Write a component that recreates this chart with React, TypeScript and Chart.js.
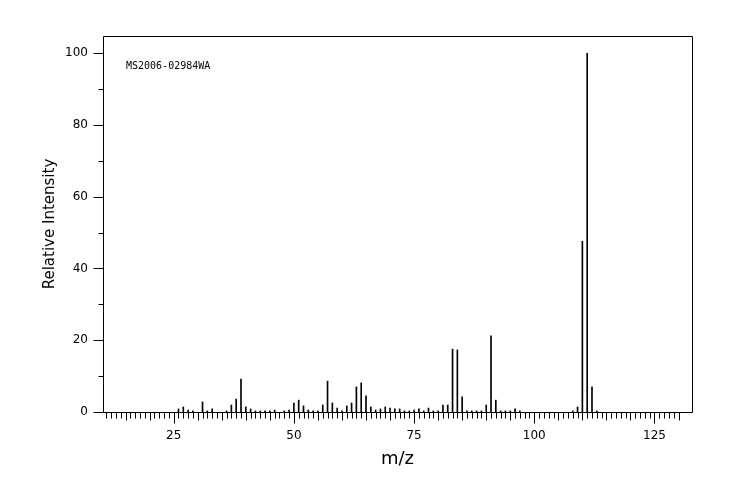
import { useEffect, useRef } from 'react';
import { Chart, registerables } from 'chart.js';

Chart.register(...registerables);

const masses = [
  26, 27, 28, 29, 31, 32, 33, 36, 37, 38, 39, 40, 41, 42, 43, 44, 45, 46, 48, 49,
  50, 51, 52, 53, 54, 55, 56, 57, 58, 59, 60, 61, 62, 63, 64, 65, 66, 67, 68, 69,
  70, 71, 72, 73, 74, 75, 76, 77, 78, 79, 80, 81, 82, 83, 84, 85, 86, 87, 88, 89,
  90, 91, 92, 93, 94, 95, 96, 97, 108, 109, 110, 111, 112, 113,
];
const intensities = [
  0.85, 1.4, 0.55, 0.3, 2.8, 0.3, 0.85, 0.3, 1.95, 3.6, 9.2, 1.4, 0.85, 0.3, 0.3, 0.3, 0.3, 0.55, 0.3, 0.55,
  2.5, 3.3, 1.7, 0.55, 0.3, 0.3, 1.95, 8.6, 2.5, 1.1, 0.3, 1.7, 2.5, 7.0, 8.1, 4.5, 1.4, 0.55, 0.85, 1.4,
  1.1, 0.85, 0.85, 0.3, 0.3, 0.55, 0.85, 0.3, 1.1, 0.3, 0.3, 1.95, 1.95, 17.5, 17.3, 4.2, 0.3, 0.3, 0.3, 0.3,
  1.95, 21.2, 3.3, 0.3, 0.3, 0.3, 0.85, 0.3, 0.3, 1.4, 47.6, 100, 7.0, 0.3,
];
const xTickLabels = [25, 50, 75, 100, 125];
const yTickLabels = [0, 20, 40, 60, 80, 100];
const xRange = [10.3, 132.8];
const yRange = [0, 104.8];
const xMinorTicks = [11, 130];
const sampleId = 'MS2006-02984WA';
const xTitle = 'm/z';
const yTitle = 'Relative Intensity';

const framePlugin = {
  id: 'frameAndTicks',
  afterDraw(chart: any) {
    const { ctx, chartArea: a, scales } = chart;
    const xs = scales.x;
    const ys = scales.y;
    ctx.save();
    ctx.strokeStyle = '#000';
    ctx.lineWidth = 1;
    const L = Math.round(a.left) + 0.5;
    const T = Math.round(a.top) + 0.5;
    const R = Math.round(a.right) + 0.5;
    const B = Math.round(a.bottom) + 0.5;
    ctx.beginPath();
    ctx.moveTo(L, T);
    ctx.lineTo(R, T);
    ctx.lineTo(R, B);
    ctx.lineTo(L, B);
    ctx.closePath();
    for (let m = xMinorTicks[0]; m <= xMinorTicks[1]; m++) {
      const px = Math.round(xs.getPixelForValue(m)) + 0.5;
      const len = m % 25 === 0 ? 11 : m % 5 === 0 ? 8 : 6;
      ctx.moveTo(px, B);
      ctx.lineTo(px, B + len);
    }
    for (let v = 0; v <= 100; v += 10) {
      const py = Math.round(ys.getPixelForValue(v)) + 0.5;
      const len = v % 20 === 0 ? 10 : 5;
      ctx.moveTo(L - len, py);
      ctx.lineTo(L, py);
    }
    ctx.stroke();
    ctx.fillStyle = '#000';
    ctx.font = '10px "DejaVu Sans Mono"';
    ctx.textBaseline = 'middle';
    ctx.textAlign = 'left';
    ctx.fillText(sampleId, a.left + 23, a.top + 30.5);
    ctx.restore();
  },
};

export default function App() {
  const ref = useRef<HTMLCanvasElement | null>(null);
  useEffect(() => {
    document.body.style.margin = '0';
    const canvas = ref.current;
    if (!canvas) return;
    const chart = new Chart(canvas, {
      type: 'bar',
      data: {
        datasets: [
          {
            data: masses.map((m, i) => ({ x: m, y: intensities[i] })),
            backgroundColor: '#000',
            borderWidth: 0,
            barThickness: 1,
          },
        ],
      },
      options: {
        responsive: false,
        animation: false,
        events: [],
        layout: { padding: { left: 0, right: 52, top: 36, bottom: 0 } },
        plugins: { legend: { display: false }, tooltip: { enabled: false } },
        scales: {
          x: {
            type: 'linear',
            min: xRange[0],
            max: xRange[1],
            offset: false,
            grid: { display: false, drawTicks: false },
            border: { display: false },
            afterBuildTicks: (s: any) => {
              s.ticks = xTickLabels.map((v) => ({ value: v }));
            },
            afterFit: (s: any) => {
              s.height = 88;
            },
            ticks: {
              color: '#000',
              font: { family: 'DejaVu Sans', size: 12 },
              padding: 17,
              maxRotation: 0,
              autoSkip: false,
            },
            title: {
              display: true,
              text: xTitle,
              color: '#000',
              font: { family: 'DejaVu Sans', size: 18 },
              padding: { top: 30, bottom: 30 },
            },
          },
          y: {
            type: 'linear',
            min: yRange[0],
            max: yRange[1],
            grid: { display: false, drawTicks: false },
            border: { display: false },
            afterBuildTicks: (s: any) => {
              s.ticks = yTickLabels.map((v) => ({ value: v }));
            },
            afterFit: (s: any) => {
              s.width = 103;
            },
            ticks: {
              color: '#000',
              font: { family: 'DejaVu Sans', size: 12 },
              padding: 15,
              autoSkip: false,
            },
            title: {
              display: true,
              text: yTitle,
              color: '#000',
              font: { family: 'DejaVu Sans', size: 15 },
              padding: { top: 41, bottom: 41 },
            },
          },
        },
      },
      plugins: [framePlugin],
    });
    return () => chart.destroy();
  }, []);
  return (
    <div style={{ width: 744, height: 500, background: '#fff' }}>
      <canvas ref={ref} width={744} height={500} style={{ display: 'block' }} />
    </div>
  );
}
